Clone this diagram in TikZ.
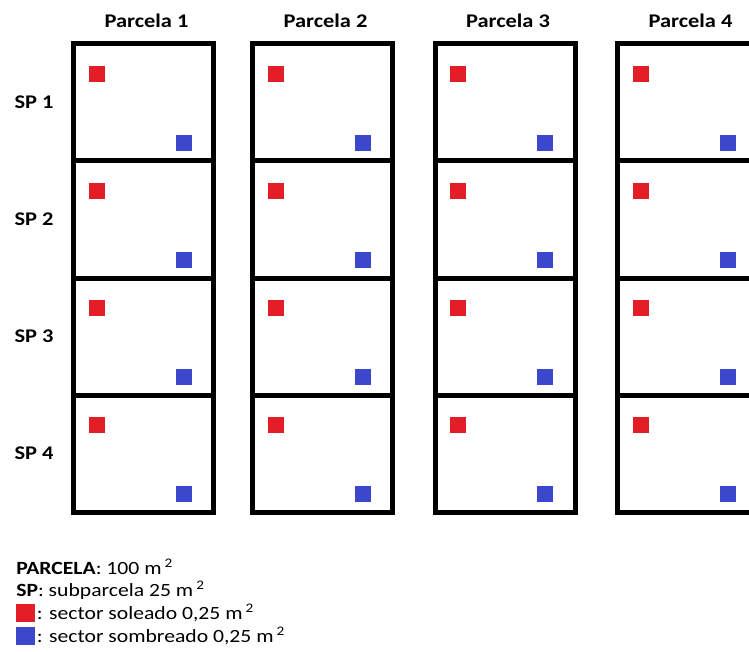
\documentclass[tikz,border=0pt]{standalone}
\usepackage{fontspec}
\setmainfont[FakeStretch=1.16]{Carlito}
\usetikzlibrary{positioning}
\definecolor{solred}{RGB}{228,30,38}
\definecolor{sombblue}{RGB}{60,72,204}

\begin{document}
\begin{tikzpicture}[x=0.75pt,y=-0.75pt,
    every node/.style={font=\fontsize{14}{17}\selectfont},
    plotline/.style={line width=3.75pt},
    sqsol/.style={fill=solred, minimum size=12pt, inner sep=0pt},
    sqsomb/.style={fill=sombblue, minimum size=12pt, inner sep=0pt},
    head/.style={font=\fontsize{14.5}{17}\selectfont\bfseries},
    legtext/.style={anchor=west, inner sep=0pt},
  ]
  \useasboundingbox (0,0) rectangle (749,652);
  \clip (0,0) rectangle (749,652);

  % --- parcelas ---
  \foreach \px [count=\i] in {73.5,252.5,435,617.5} {
    \node[head] (head\i) at (\px+73,21) {Parcela \i};
    \draw[plotline] (\px,44) rectangle (\px+140,512);
    \foreach \r in {1,2,3}
      \draw[plotline] (\px,44+\r*117) -- (\px+140,44+\r*117);
    \foreach \r [count=\j] in {0,1,2,3} {
      \node[sqsol] (sol\i\j) at (\px+23,44+\r*117+30) {};
      \node[sqsomb] (somb\i\j) at (\px+110,44+\r*117+99) {};
    }
  }

  % --- subparcelas ---
  \foreach \r [count=\j] in {0,1,2,3}
    \node[head] (sp\j) at (34,102.5+\r*117) {SP \j};

  % --- leyenda ---
  \node[legtext] (leg1) at (16,567) {\textbf{PARCELA}: 100 m\,\textsuperscript{2}};
  \node[legtext] (leg2) at (16,590) {\textbf{SP}: subparcela 25 m\,\textsuperscript{2}};
  \node[fill=solred, minimum width=14pt, minimum height=13pt, inner sep=0pt, anchor=west] (legsol) at (16,613) {};
  \node[legtext, right=1pt of legsol] (leg3) {: sector soleado 0,25 m\,\textsuperscript{2}};
  \node[fill=sombblue, minimum width=14pt, minimum height=13pt, inner sep=0pt, anchor=west] (legsomb) at (16,636) {};
  \node[legtext, right=1pt of legsomb] (leg4) {: sector sombreado 0,25 m\,\textsuperscript{2}};
\end{tikzpicture}
\end{document}
